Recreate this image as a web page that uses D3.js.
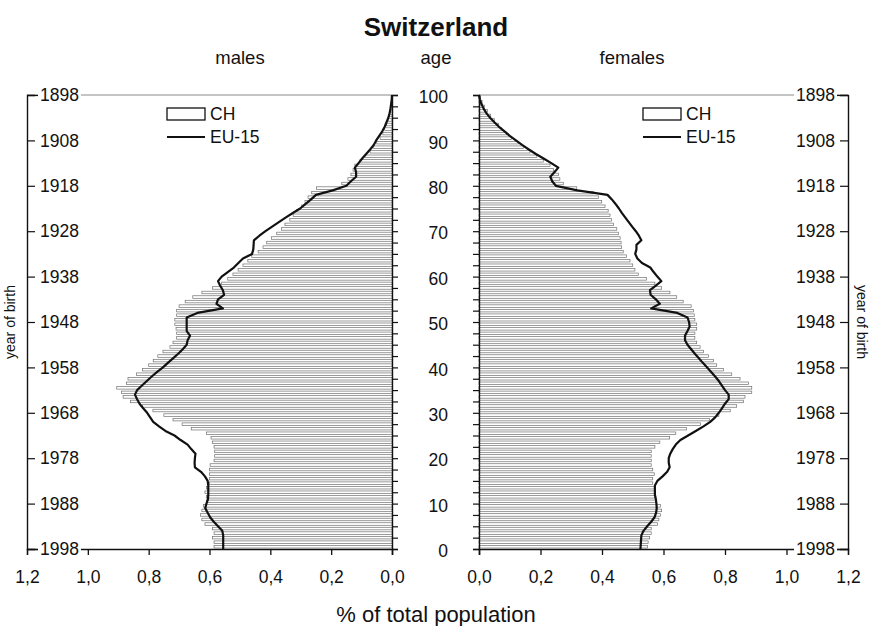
<!DOCTYPE html>
<html>
<head>
<meta charset="utf-8">
<script src="https://cdn.jsdelivr.net/npm/d3@7/dist/d3.min.js"></script>
<style>
  html, body { margin: 0; padding: 0; background: #fff; }
  svg { display: block; font-family: "Liberation Sans", Arial, sans-serif; }
</style>
</head>
<body>
<svg id="chart" width="869" height="626"></svg>
<script>
// Population pyramid, Switzerland (CH) vs EU-15, share of total population by single year of age
const ages = d3.range(0, 101);
const ageTicks = d3.range(0, 101, 10);
const yearTicks = d3.range(1898, 1999, 10);
const pctTicks = [0, 0.2, 0.4, 0.6, 0.8, 1.0, 1.2];

const chMales = [
  0.585, 0.585, 0.59, 0.585, 0.59, 0.615, 0.625, 0.63, 0.625, 0.62,
  0.61, 0.61, 0.615, 0.61, 0.6, 0.6, 0.6, 0.6, 0.598, 0.585,
  0.583, 0.583, 0.585, 0.59, 0.595, 0.61, 0.66, 0.69, 0.72, 0.75,
  0.786, 0.82, 0.86, 0.884, 0.889, 0.905, 0.873, 0.868, 0.84, 0.82,
  0.8, 0.785, 0.77, 0.753, 0.73, 0.72, 0.708, 0.708, 0.71, 0.714,
  0.714, 0.708, 0.708, 0.7, 0.68, 0.655, 0.625, 0.59, 0.56, 0.54,
  0.523, 0.506, 0.49, 0.474, 0.461, 0.44, 0.424, 0.412, 0.396, 0.379,
  0.363, 0.352, 0.336, 0.325, 0.313, 0.297, 0.286, 0.276, 0.264, 0.248,
  0.165, 0.145, 0.135, 0.128, 0.122, 0.105, 0.089, 0.072, 0.062, 0.05,
  0.039, 0.03, 0.024, 0.018, 0.013, 0.009, 0.006, 0.004, 0.002, 0.001,
  0.0005
];
const euMales = [
  0.555, 0.555, 0.555, 0.555, 0.558, 0.572, 0.586, 0.598, 0.606, 0.614,
  0.61, 0.605, 0.604, 0.604, 0.604, 0.606, 0.615, 0.628, 0.648, 0.649,
  0.648, 0.646, 0.66, 0.672, 0.695, 0.715, 0.745, 0.766, 0.785, 0.795,
  0.805, 0.818, 0.83, 0.838, 0.845, 0.838, 0.822, 0.806, 0.79, 0.772,
  0.753, 0.737, 0.72, 0.703, 0.688, 0.675, 0.672, 0.664, 0.675, 0.675,
  0.675, 0.675, 0.64, 0.556, 0.577, 0.572, 0.552, 0.556, 0.565, 0.572,
  0.56, 0.54, 0.52, 0.505, 0.49, 0.46, 0.456, 0.455, 0.454, 0.436,
  0.416, 0.394, 0.372, 0.35, 0.326, 0.302, 0.284, 0.266, 0.25, 0.195,
  0.15, 0.135, 0.118, 0.118, 0.122, 0.11, 0.098, 0.085, 0.072, 0.06,
  0.052, 0.042, 0.032, 0.024, 0.018, 0.012, 0.008, 0.005, 0.003, 0.001,
  0.0
];
const chFemales = [
  0.548, 0.55, 0.555, 0.56, 0.56, 0.58, 0.585, 0.59, 0.594, 0.59,
  0.575, 0.572, 0.572, 0.57, 0.565, 0.565, 0.57, 0.565, 0.56, 0.56,
  0.56, 0.56, 0.572, 0.588, 0.62, 0.64, 0.675, 0.72, 0.75, 0.78,
  0.817, 0.838, 0.86, 0.865, 0.887, 0.887, 0.876, 0.849, 0.822, 0.795,
  0.773, 0.762, 0.746, 0.73, 0.719, 0.708, 0.702, 0.702, 0.708, 0.708,
  0.702, 0.7, 0.697, 0.69, 0.664, 0.643, 0.621, 0.594, 0.572, 0.545,
  0.518, 0.507, 0.5, 0.491, 0.48, 0.469, 0.464, 0.462, 0.459, 0.453,
  0.448, 0.437, 0.431, 0.426, 0.42, 0.41, 0.399, 0.388, 0.372, 0.318,
  0.274, 0.263, 0.258, 0.242, 0.231, 0.209, 0.188, 0.166, 0.144, 0.128,
  0.106, 0.09, 0.074, 0.063, 0.05, 0.038, 0.028, 0.018, 0.01, 0.005,
  0.002
];
const euFemales = [
  0.525, 0.526, 0.527, 0.528, 0.535, 0.547, 0.56, 0.571, 0.576, 0.578,
  0.577, 0.575, 0.572, 0.572, 0.572, 0.58, 0.597, 0.612, 0.62, 0.617,
  0.617, 0.622, 0.63, 0.64, 0.655, 0.68, 0.705, 0.73, 0.752, 0.768,
  0.78, 0.79, 0.8, 0.812, 0.812, 0.8, 0.79, 0.78, 0.768, 0.755,
  0.742, 0.728, 0.715, 0.702, 0.69, 0.678, 0.67, 0.67, 0.678, 0.685,
  0.683, 0.678, 0.645, 0.56, 0.588, 0.575, 0.558, 0.556, 0.575, 0.593,
  0.58, 0.568, 0.557, 0.53, 0.515, 0.508, 0.512, 0.512, 0.528, 0.52,
  0.51, 0.498, 0.487, 0.476, 0.465, 0.455, 0.444, 0.432, 0.418, 0.32,
  0.25, 0.238, 0.232, 0.245, 0.258, 0.235, 0.21, 0.185, 0.162, 0.14,
  0.12, 0.1, 0.083, 0.065, 0.05, 0.036, 0.024, 0.015, 0.008, 0.003,
  0.0
];

const svg = d3.select("#chart");
const fmt = v => d3.format(".1f")(v).replace(".", ",");

const yAge = d3.scaleLinear().domain([0, 100]).range([549, 95]);
const yYear = d3.scaleLinear().domain([1898, 1998]).range([95, 549]);
const xL = d3.scaleLinear().domain([0, 1.2]).range([392, 27]);
const xR = d3.scaleLinear().domain([0, 1.2]).range([479, 848]);

const band = yAge(0) - yAge(1);
const pad = 1.0;

function panel(x, ch, eu, side) {
  const g = svg.append("g");
  const x0 = x(0);
  const x12 = x(1.2);

  // top frame line (thin grey)
  g.append("line")
    .attr("x1", x12).attr("x2", x0)
    .attr("y1", yAge(100)).attr("y2", yAge(100))
    .attr("stroke", "#8a8a8a").attr("stroke-width", 1);

  // CH bars: open rectangles, one per year of age
  g.append("g").selectAll("rect")
    .data(ages.filter(a => a < 100))
    .join("rect")
    .attr("x", a => Math.min(x(ch[a]), x0))
    .attr("width", a => Math.abs(x(ch[a]) - x0))
    .attr("y", a => yAge(a + 1) + pad)
    .attr("height", band - 2 * pad)
    .attr("fill", "#fff")
    .attr("stroke", "#707070")
    .attr("stroke-width", 0.7);

  // EU-15 line
  const line = d3.line()
    .x(a => x(eu[a]))
    .y(a => yAge(a))
    .curve(d3.curveLinear);
  g.append("path")
    .datum(ages)
    .attr("d", line)
    .attr("fill", "none")
    .attr("stroke", "#111")
    .attr("stroke-width", 2.2)
    .attr("stroke-linejoin", "round");

  // bottom percentage axis
  const xAxis = d3.axisBottom(x).tickValues(pctTicks).tickSize(6).tickPadding(16).tickFormat(fmt);
  const ax = g.append("g").attr("transform", `translate(0,${yAge(0)})`).call(xAxis);
  ax.select(".domain").attr("stroke", "#111").attr("stroke-width", 1.6);
  ax.selectAll(".tick line").attr("stroke", "#111").attr("stroke-width", 1.3);
  ax.selectAll(".tick").filter(d => d === 1.2).select("line").remove();
  ax.selectAll(".tick text").attr("font-size", 17.5).attr("fill", "#111")
    .attr("font-family", "Liberation Sans, Arial, sans-serif");

  // age axis next to the central labels, minor ticks every 2.5 years
  const ageAxis = (side === "left" ? d3.axisRight(yAge) : d3.axisLeft(yAge))
    .tickValues(d3.range(0, 100.1, 2.5)).tickSize(6).tickFormat("");
  const aa = g.append("g").attr("transform", `translate(${x0},0)`).call(ageAxis);
  aa.select(".domain").attr("stroke", "#111").attr("stroke-width", 1.4);
  aa.selectAll(".tick line").attr("stroke", "#111").attr("stroke-width", 1.2);

  // year-of-birth axis at the outer edge, ticks pointing inward
  const yearAxis = (side === "left" ? d3.axisRight(yYear) : d3.axisLeft(yYear))
    .tickValues(yearTicks).tickSize(8).tickPadding(5).tickFormat(d3.format("d"));
  const ya = g.append("g").attr("transform", `translate(${x12},0)`).call(yearAxis);
  ya.select(".domain").attr("stroke", "#111").attr("stroke-width", 1.4);
  ya.selectAll(".tick line").attr("stroke", "#111").attr("stroke-width", 1.2);
  ya.selectAll(".tick").each(function(d) {
    const t = d3.select(this);
    const txt = t.select("text")
      .attr("font-size", 17.5).attr("fill", "#111")
      .attr("font-family", "Liberation Sans, Arial, sans-serif");
    const bb = txt.node().getBBox();
    t.insert("rect", "text")
      .attr("x", bb.x - 2).attr("y", bb.y)
      .attr("width", bb.width + 4).attr("height", bb.height)
      .attr("fill", "#fff");
    if (d === 1898 || d === 1998) {
      t.select("line").attr("x2", side === "left" ? 13 : -13);
    }
  });

  // legend
  const lx = side === "left" ? 167 : 643;
  const lg = g.append("g");
  lg.append("rect").attr("x", lx).attr("y", 108).attr("width", 38).attr("height", 12)
    .attr("fill", "#fff").attr("stroke", "#111").attr("stroke-width", 1.3);
  lg.append("text").attr("x", lx + 43).attr("y", 114).attr("dy", "0.35em")
    .attr("font-size", 17.5).attr("fill", "#111").text("CH");
  lg.append("line").attr("x1", lx).attr("x2", lx + 38).attr("y1", 137).attr("y2", 137)
    .attr("stroke", "#111").attr("stroke-width", 1.8);
  lg.append("text").attr("x", lx + 43).attr("y", 137).attr("dy", "0.35em")
    .attr("font-size", 17.5).attr("fill", "#111").text("EU-15");
}

panel(xL, chMales, euMales, "left");
panel(xR, chFemales, euFemales, "right");

// central age labels
svg.append("g").selectAll("text")
  .data(ageTicks)
  .join("text")
  .attr("x", 448).attr("y", d => yAge(d) + 2)
  .attr("dy", "0.35em").attr("text-anchor", "end")
  .attr("font-size", 17.5).attr("fill", "#111")
  .text(d => d);

// titles
svg.append("text").attr("x", 436).attr("y", 36).attr("text-anchor", "middle")
  .attr("font-size", 26).attr("font-weight", "bold").attr("fill", "#111").text("Switzerland");
svg.append("text").attr("x", 240).attr("y", 64).attr("text-anchor", "middle")
  .attr("font-size", 18.5).attr("fill", "#111").text("males");
svg.append("text").attr("x", 436).attr("y", 64).attr("text-anchor", "middle")
  .attr("font-size", 18.5).attr("fill", "#111").text("age");
svg.append("text").attr("x", 632).attr("y", 64).attr("text-anchor", "middle")
  .attr("font-size", 18.5).attr("fill", "#111").text("females");
svg.append("text").attr("x", 436).attr("y", 622).attr("text-anchor", "middle")
  .attr("font-size", 22).attr("fill", "#111").text("% of total population");

// rotated year-of-birth captions
svg.append("text").attr("transform", "translate(15,322) rotate(-90)")
  .attr("text-anchor", "middle").attr("font-size", 14).attr("fill", "#111").text("year of birth");
svg.append("text").attr("transform", "translate(857,322) rotate(90)")
  .attr("text-anchor", "middle").attr("font-size", 14).attr("fill", "#111").text("year of birth");
</script>
</body>
</html>
